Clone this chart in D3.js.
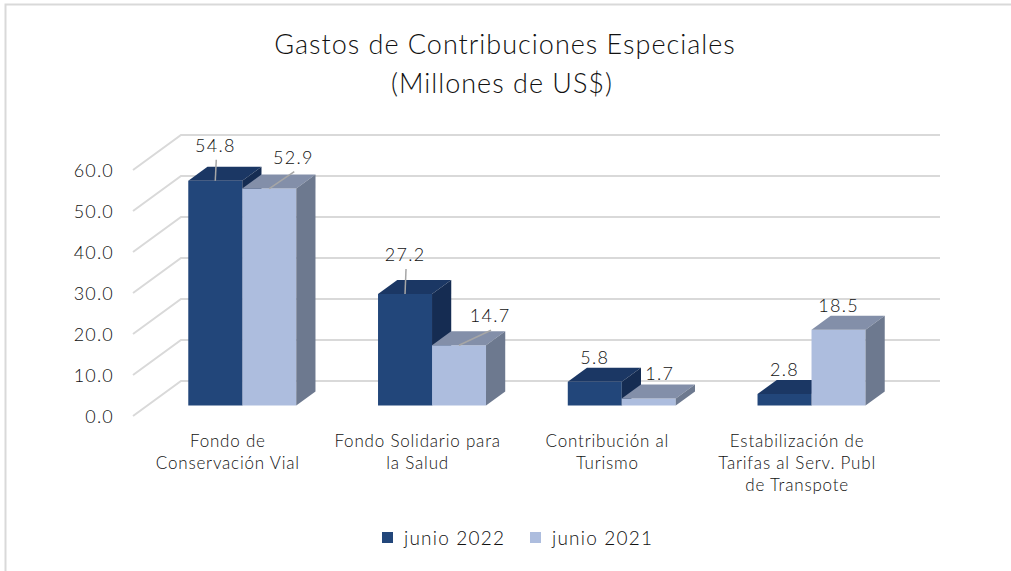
<!DOCTYPE html>
<html><head><meta charset="utf-8">
<script src="https://cdn.jsdelivr.net/npm/d3@7"></script>
<style>
body{margin:0;background:#fff}
text{font-family:Lato, "Open Sans", sans-serif; fill:#111; font-weight:300}
</style>
</head><body>
<svg id="c" width="1011" height="571"></svg>
<script>
// ---- data ----
const categories = ["Fondo de\nConservación Vial", "Fondo Solidario para\nla Salud", "Contribución al\nTurismo", "Estabilización de\nTarifas al Serv. Publ\nde Transpote"];
const seriesNames = ["junio 2022", "junio 2021"];
const values2022 = [54.8, 27.2, 5.8, 2.8];
const values2021 = [52.9, 14.7, 1.7, 18.5];
const yTicks = [0, 10, 20, 30, 40, 50, 60];
const titleLines = ["Gastos de Contribuciones Especiales", "(Millones de US$)"];

// ---- layout / style ----
const colors = [
  {front:"#22467A", top:"#1B3764", side:"#152C52"},
  {front:"#ADBDDE", top:"#838FA9", side:"#6D798F"}
];
const labelNudge = [
  [[0,-11],[0,-15],[0,0],[0,0]],
  [[24,-7],[31,-5],[11,-1],[0,0]]
];
const leader = [[true,true,false,false],[true,true,false,false]];
const DX = 48, DY = -35;          // full depth offset of the 3D box
const D0 = 0.3, D1 = 0.7;         // bar depth range (fraction)

const svg = d3.select("#c");

// border
svg.append("rect").attr("x",5.5).attr("y",4.5).attr("width",1030).attr("height",600)
  .attr("fill","none").attr("stroke","#d9d9d9").attr("stroke-width",2);

// title
svg.append("text").attr("x",505).attr("y",43).attr("text-anchor","middle")
  .attr("dominant-baseline","central").style("font-size","27px").style("letter-spacing","1px").text(titleLines[0]);
svg.append("text").attr("x",502).attr("y",82).attr("text-anchor","middle")
  .attr("dominant-baseline","central").style("font-size","27px").style("letter-spacing","1px").text(titleLines[1]);

// scales (back wall)
const x = d3.scaleBand().domain(categories).range([181, 940]);
const y = d3.scaleLinear().domain([0, 60]).range([381, 135]);
const series = [values2022, values2021];
const xs = d3.scaleBand().domain(d3.range(series.length)).range([0, 108]);

// gridlines
const grid = svg.append("g");
yTicks.forEach(t => {
  const yb = y(t);
  grid.append("path")
    .attr("d", `M${181 - DX},${yb - DY} L181,${yb} L940,${yb}`)
    .attr("fill","none").attr("stroke","#d9d9d9").attr("stroke-width",2);
});

// y axis labels (front plane)
svg.append("g").selectAll("text").data(yTicks).join("text")
  .attr("x",114).attr("y",d => y(d) - DY)
  .attr("text-anchor","end").attr("dominant-baseline","central")
  .style("font-size","18px").style("letter-spacing","1.2px")
  .text(d => d3.format(".1f")(d));

// bars
const bars = svg.append("g");
const labels = svg.append("g");
categories.forEach((c, ci) => {
  const frontCenter = x(c) + x.bandwidth()/2 - DX;   // center on front plane
  const pairLeft = frontCenter - 54 + D0*DX;
  series.forEach((vals, si) => {
    const v = vals[ci];
    const x0 = pairLeft + xs(si), x1 = x0 + xs.bandwidth();
    const yb = y(0) - DY + D0*DY;          // front-face bottom
    const yt = y(v) - DY + D0*DY;          // front-face top
    const ddx = (D1-D0)*DX, ddy = (D1-D0)*DY;
    const col = colors[si];
    const g = bars.append("g");
    g.append("path").attr("d",`M${x0},${yb}L${x0},${yt}L${x1},${yt}L${x1},${yb}Z`).attr("fill",col.front);
    g.append("path").attr("d",`M${x0},${yt}L${x0+ddx},${yt+ddy}L${x1+ddx},${yt+ddy}L${x1},${yt}Z`).attr("fill",col.top);
    g.append("path").attr("d",`M${x1},${yb}L${x1},${yt}L${x1+ddx},${yt+ddy}L${x1+ddx},${yb+ddy}Z`).attr("fill",col.side);

    const cx = (x0 + x1)/2;
    const lx = cx + labelNudge[si][ci][0];
    const ly = yt + ddy - 11 + labelNudge[si][ci][1];
    if (leader[si][ci]) {
      labels.append("line").attr("x1",lx+1).attr("y1",ly+15).attr("x2",cx).attr("y2",yt)
        .attr("stroke","#a6a6a6").attr("stroke-width",1.5);
    }
    labels.append("text").attr("x",lx).attr("y",ly)
      .attr("text-anchor","middle").attr("dominant-baseline","central")
      .style("font-size","18px").style("letter-spacing","1.3px")
      .text(d3.format(".1f")(v));
  });
  // category label
  const lines = c.split("\n");
  const t = svg.append("text").attr("text-anchor","middle").style("font-size","17px").style("letter-spacing","0.8px");
  lines.forEach((ln, li) => {
    t.append("tspan").attr("x", frontCenter).attr("y", 440 + li*22)
      .attr("dominant-baseline","central").text(ln);
  });
});

// legend
const legendX = [382, 530];
seriesNames.forEach((s, i) => {
  svg.append("rect").attr("x",legendX[i]).attr("y",532).attr("width",11).attr("height",11).attr("fill",colors[i].front);
  svg.append("text").attr("x",legendX[i]+22).attr("y",537).attr("dominant-baseline","central")
    .style("font-size","19px").style("letter-spacing","1.2px").text(s);
});
</script>
</body></html>
